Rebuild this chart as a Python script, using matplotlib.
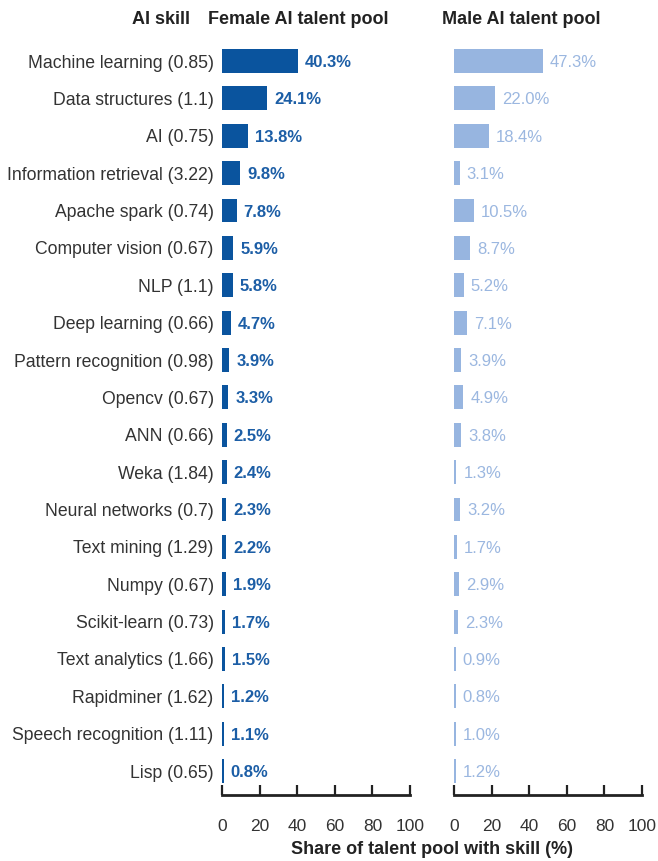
import matplotlib.pyplot as plt
import numpy as np

skills = ["Machine learning (0.85)", "Data structures (1.1)", "AI (0.75)",
          "Information retrieval (3.22)", "Apache spark (0.74)", "Computer vision (0.67)",
          "NLP (1.1)", "Deep learning (0.66)", "Pattern recognition (0.98)",
          "Opencv (0.67)", "ANN (0.66)", "Weka (1.84)", "Neural networks (0.7)",
          "Text mining (1.29)", "Numpy (0.67)", "Scikit-learn (0.73)",
          "Text analytics (1.66)", "Rapidminer (1.62)", "Speech recognition (1.11)",
          "Lisp (0.65)"]
female = [40.3, 24.1, 13.8, 9.8, 7.8, 5.9, 5.8, 4.7, 3.9, 3.3,
          2.5, 2.4, 2.3, 2.2, 1.9, 1.7, 1.5, 1.2, 1.1, 0.8]
male = [47.3, 22.0, 18.4, 3.1, 10.5, 8.7, 5.2, 7.1, 3.9, 4.9,
        3.8, 1.3, 3.2, 1.7, 2.9, 2.3, 0.9, 0.8, 1.0, 1.2]
xticks = [0, 20, 40, 60, 80, 100]

DARK = '#0a549e'
DARK_TXT = '#1c5ea6'
LIGHT = '#97b5e0'
LIGHT_TXT = '#9bb7e0'
GREY = '#333333'


def style_axis(ax, labels):
    ax.set_xlim(0, 100)
    ax.set_ylim(len(skills) - 1 + 0.64, -0.6)
    for s in ['top', 'right', 'left']:
        ax.spines[s].set_visible(False)
    ax.spines['bottom'].set_linewidth(2)
    ax.spines['bottom'].set_color('#222222')
    ax.set_xticks(xticks)
    ax.tick_params(axis='x', direction='in', length=7, width=1.6, color='#222222',
                   pad=17, labelsize=12.5, labelcolor=GREY)
    if labels:
        ax.set_yticks(np.arange(len(skills)))
        ax.set_yticklabels(skills, fontsize=12.7, color=GREY)
        ax.tick_params(axis='y', length=0, pad=6)
    else:
        ax.set_yticks([])


def draw_bars(ax, vals, color, txtcolor, weight):
    y = np.arange(len(vals))
    ax.barh(y, vals, height=0.64, color=color)
    for yi, v in zip(y, vals):
        ax.annotate(f"{v:.1f}%", (v, yi), xytext=(5, 0), textcoords='offset points',
                    va='center_baseline', ha='left', fontsize=12, color=txtcolor,
                    fontweight=weight)


def main():
    plt.rcParams['font.family'] = ['Liberation Sans', 'DejaVu Sans']
    fig = plt.figure(figsize=(6.58, 8.61), dpi=100)
    bottom = 66 / 861
    height = 0.8785
    ax1 = fig.add_axes([222 / 658, bottom, 188 / 658, height])
    ax2 = fig.add_axes([454 / 658, bottom, 188 / 658, height])

    draw_bars(ax1, female, DARK, DARK_TXT, 'bold')
    draw_bars(ax2, male, LIGHT, LIGHT_TXT, 'normal')
    style_axis(ax1, True)
    style_axis(ax2, False)

    hy = 1 - 20 / 861
    fig.text(190 / 658, hy, "AI skill", ha='right', va='center', fontsize=13,
             fontweight='bold', color='#222222')
    fig.text(208 / 658, hy, "Female AI talent pool", ha='left', va='center',
             fontsize=13, fontweight='bold', color='#222222')
    fig.text(442 / 658, hy, "Male AI talent pool", ha='left', va='center',
             fontsize=13, fontweight='bold', color='#222222')
    fig.text(432 / 658, 1 - 850 / 861, "Share of talent pool with skill (%)",
             ha='center', va='center', fontsize=13, fontweight='bold', color='#222222')

    plt.savefig("out.png", dpi=100)


if __name__ == "__main__":
    main()
